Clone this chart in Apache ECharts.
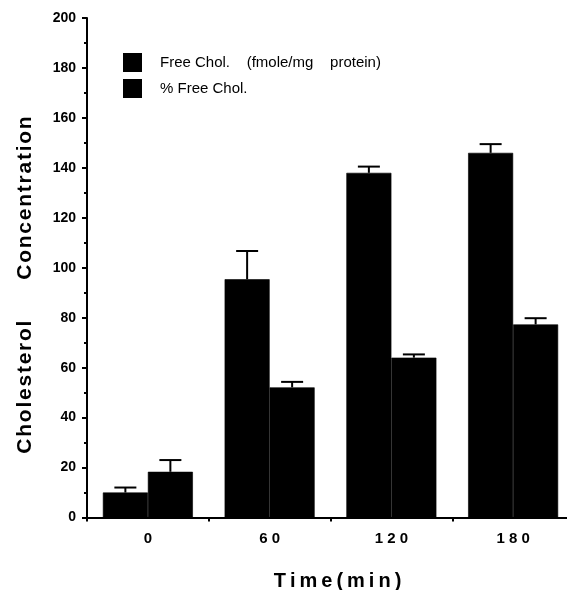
<!DOCTYPE html>
<html>
<head>
<meta charset="utf-8">
<script src="https://cdn.jsdelivr.net/npm/echarts@6/dist/echarts.min.js"></script>
<style>
  html, body { margin: 0; padding: 0; background: #fff; }
  #chart { width: 567px; height: 590px; }
</style>
</head>
<body>
<div id="chart"></div>
<script>
// ============================================
// DATA
// ============================================
const timeLabels = ['0', '60', '120', '180'];
const freeChol = [10, 95.4, 138, 146];
const freeCholErr = [12, 106.7, 140.5, 149.5];
const pctFreeChol = [18.3, 52.1, 64, 77.3];
const pctFreeCholErr = [23, 54.3, 65.3, 79.8];
const yTicks = [0, 200, 20];
const seriesNames = ['Free Chol.    (fmole/mg    protein)', '% Free Chol.'];

const BAR_W = 45;
const CAP_W = 22;
const FONT = '"Liberation Sans", Arial, Helvetica, sans-serif';
const THIN = '\u2009';
const HAIR = '\u200A';

// Spread out letters the way the printed figure does
function spaced(text, gap) {
    return text.split('').join(gap || THIN);
}

// Build [index, top, errorTop] rows for the custom error bar series
function errorRows(values, tops) {
    return values.map((v, i) => [i, v, tops[i]]);
}

// Draw an upward error bar with cap, shifted to sit on its bar
function makeErrorRenderer(offset) {
    return function(params, api) {
        const base = api.coord([api.value(0), api.value(1)]);
        const top = api.coord([api.value(0), api.value(2)]);
        const x = base[0] + offset;
        const style = { stroke: '#000', lineWidth: 2 };
        return {
            type: 'group',
            children: [
                { type: 'line', shape: { x1: x, y1: base[1], x2: x, y2: top[1] }, style: style },
                { type: 'line', shape: { x1: x - CAP_W / 2, y1: top[1], x2: x + CAP_W / 2, y2: top[1] }, style: style }
            ]
        };
    };
}

const chart = echarts.init(document.getElementById('chart'));

const barStyle = { color: '#000', borderColor: '#000', borderWidth: 0.6 };

const option = {
    backgroundColor: '#fff',
    animation: false,
    textStyle: { fontFamily: FONT },
    // the printed figure is cropped on the right, so the plot runs past the edge
    grid: { left: 87, top: 18, width: 487, bottom: 72.5, outerBoundsMode: 'none', containLabel: false },
    legend: {
        orient: 'vertical',
        left: 123,
        top: 53,
        padding: 0,
        itemWidth: 17,
        itemHeight: 17,
        itemGap: 7,
        icon: 'rect',
        data: seriesNames,
        textStyle: { color: '#000', fontSize: 15, fontFamily: FONT, padding: [0, 0, 0, 14] }
    },
    xAxis: {
        type: 'category',
        data: timeLabels,
        name: spaced('Time(min)'),
        nameLocation: 'middle',
        nameGap: 54,
        nameTextStyle: { color: '#000', fontSize: 20, fontWeight: 'bold', fontFamily: FONT, padding: [0, 0, 0, 14] },
        axisLine: { lineStyle: { color: '#000', width: 2 } },
        axisTick: { show: true, interval: 0, length: 4, lineStyle: { color: '#000', width: 2 } },
        axisLabel: {
            color: '#000',
            fontSize: 15,
            fontWeight: 'bold',
            margin: 14,
            formatter: v => v.split('').join(' ')
        }
    },
    yAxis: {
        type: 'value',
        min: yTicks[0],
        max: yTicks[1],
        interval: yTicks[2],
        axisLine: { show: true, lineStyle: { color: '#000', width: 2 } },
        axisTick: { show: true, length: 5, lineStyle: { color: '#000', width: 2 } },
        minorTick: { show: true, splitNumber: 2, length: 3, lineStyle: { color: '#000', width: 2 } },
        splitLine: { show: false },
        axisLabel: { color: '#000', fontSize: 14, fontWeight: 'bold', margin: 11 }
    },
    graphic: [{
        type: 'text',
        x: 25,
        y: 285,
        rotation: Math.PI / 2,
        style: {
            text: spaced('Cholesterol', HAIR) + '       ' + spaced('Concentration', HAIR),
            font: 'bold 21px ' + FONT,
            fill: '#000',
            align: 'center',
            verticalAlign: 'middle'
        }
    }],
    series: [
        {
            name: seriesNames[0],
            type: 'bar',
            data: freeChol,
            barWidth: BAR_W,
            barGap: '0%',
            itemStyle: barStyle
        },
        {
            name: seriesNames[1],
            type: 'bar',
            data: pctFreeChol,
            barWidth: BAR_W,
            barGap: '0%',
            itemStyle: barStyle
        },
        {
            type: 'custom',
            renderItem: makeErrorRenderer(-BAR_W / 2),
            data: errorRows(freeChol, freeCholErr),
            z: 5
        },
        {
            type: 'custom',
            renderItem: makeErrorRenderer(BAR_W / 2),
            data: errorRows(pctFreeChol, pctFreeCholErr),
            z: 5
        }
    ]
};

chart.setOption(option);
</script>
</body>
</html>
